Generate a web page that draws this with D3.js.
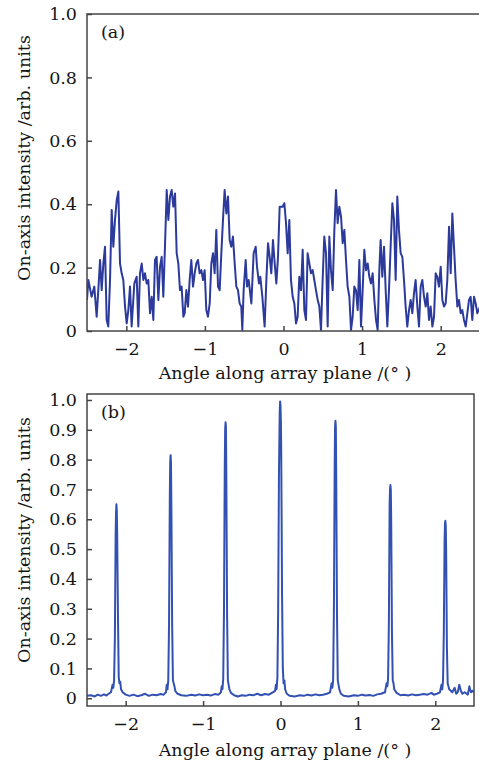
<!DOCTYPE html>
<html>
<head>
<meta charset="utf-8">
<script src="https://cdn.jsdelivr.net/npm/d3@7/dist/d3.min.js"></script>
<style>
  html, body { margin: 0; padding: 0; background: #fff; }
  svg { display: block; }
  text { font-family: "DejaVu Serif", "Liberation Serif", serif; fill: #151515; }
</style>
</head>
<body>
<svg id="chart" width="479" height="763"></svg>
<script>
// ---------------- DATA ----------------
// Panel (a): on-axis intensity, noisy pattern (angle in degrees, intensity)
const anglesA = [
  -2.500, -2.483, -2.441, -2.407, -2.377, -2.356, -2.334, -2.313, -2.292, -2.271,
  -2.250, -2.229, -2.207, -2.186, -2.165, -2.144, -2.122, -2.101, -2.080, -2.059,
  -2.038, -2.016, -1.995, -1.974, -1.953, -1.932, -1.898, -1.868, -1.847, -1.826,
  -1.804, -1.783, -1.762, -1.741, -1.720, -1.698, -1.677, -1.656, -1.635, -1.614,
  -1.592, -1.571, -1.550, -1.529, -1.508, -1.486, -1.465, -1.444, -1.423, -1.402,
  -1.380, -1.359, -1.338, -1.317, -1.296, -1.274,
  -1.257, -1.236, -1.215, -1.194, -1.173, -1.151, -1.130, -1.109, -1.088, -1.067,
  -1.045, -1.024, -1.003, -0.982, -0.961, -0.939, -0.918, -0.897, -0.876, -0.855,
  -0.833, -0.812, -0.791, -0.770, -0.749, -0.727, -0.706, -0.685, -0.664, -0.643,
  -0.621, -0.600, -0.579, -0.558, -0.537, -0.524, -0.507, -0.481, -0.464, -0.443,
  -0.409, -0.380, -0.354, -0.337, -0.312, -0.295, -0.269, -0.240, -0.218, -0.197,
  -0.176, -0.155, -0.134, -0.112, -0.091, -0.070, -0.049,
  -0.011, 0.011, 0.032, 0.053, 0.074, 0.095, 0.117, 0.138, 0.159, 0.180,
  0.201, 0.223, 0.244, 0.265, 0.286, 0.307, 0.329, 0.350, 0.371, 0.392,
  0.413, 0.435, 0.456, 0.477, 0.498, 0.519, 0.541, 0.562, 0.583, 0.604,
  0.626, 0.647, 0.668, 0.689, 0.710, 0.732, 0.753, 0.774, 0.795, 0.816,
  0.838, 0.859, 0.880, 0.901, 0.922, 0.944, 0.965, 0.986, 1.007, 1.028,
  1.050, 1.071, 1.092, 1.113, 1.134, 1.156, 1.177, 1.198, 1.219,
  1.236, 1.257, 1.279, 1.300, 1.321, 1.342, 1.363, 1.385, 1.406, 1.427,
  1.448, 1.469, 1.491, 1.512, 1.533, 1.554, 1.575, 1.597, 1.618, 1.639,
  1.660, 1.681, 1.703, 1.724, 1.745, 1.766, 1.788, 1.809, 1.830, 1.851,
  1.872, 1.894, 1.915, 1.936, 1.957, 1.978, 2.000, 2.021, 2.042, 2.063,
  2.084, 2.106, 2.127, 2.148, 2.169, 2.190, 2.212, 2.233, 2.254, 2.275,
  2.296, 2.318, 2.339, 2.360, 2.381, 2.402, 2.424, 2.445, 2.466, 2.500
];
const intensityA = [
  0.098, 0.161, 0.108, 0.140, 0.045, 0.129, 0.224, 0.129, 0.213, 0.266,
  0.035, 0.014, 0.161, 0.382, 0.266, 0.350, 0.413, 0.440, 0.213, 0.182,
  0.161, 0.077, 0.024, 0.066, 0.140, 0.014, 0.150, 0.171, 0.014, 0.182,
  0.213, 0.161, 0.182, 0.150, 0.161, 0.056, 0.108, 0.035, 0.224, 0.234,
  0.098, 0.203, 0.234, 0.108, 0.266, 0.445, 0.350, 0.424, 0.445, 0.392,
  0.434, 0.245, 0.213, 0.129, 0.140, 0.045,
  0.056, 0.129, 0.077, 0.161, 0.224, 0.140, 0.182, 0.213, 0.224, 0.182,
  0.192, 0.161, 0.192, 0.066, 0.045, 0.087, 0.213, 0.245, 0.182, 0.319,
  0.140, 0.129, 0.245, 0.350, 0.445, 0.371, 0.424, 0.287, 0.266, 0.298,
  0.213, 0.140, 0.129, 0.087, 0.077, 0.003, 0.129, 0.224, 0.140, 0.161,
  0.087, 0.245, 0.266, 0.203, 0.150, 0.171, 0.108, 0.014, 0.161, 0.277,
  0.234, 0.182, 0.287, 0.213, 0.150, 0.234, 0.392,
  0.392, 0.403, 0.340, 0.245, 0.350, 0.161, 0.108, 0.087, 0.024, 0.045,
  0.171, 0.129, 0.256, 0.066, 0.035, 0.245, 0.213, 0.182, 0.192, 0.161,
  0.129, 0.098, 0.077, 0.003, 0.161, 0.298, 0.245, 0.014, 0.298, 0.192,
  0.129, 0.319, 0.445, 0.340, 0.392, 0.361, 0.277, 0.319, 0.224, 0.140,
  0.108, 0.003, 0.045, 0.140, 0.129, 0.066, 0.224, 0.014, 0.129, 0.256,
  0.192, 0.213, 0.171, 0.150, 0.182, 0.098, 0.035, 0.003, 0.192,
  0.287, 0.171, 0.266, 0.129, 0.014, 0.129, 0.266, 0.403, 0.350, 0.161,
  0.424, 0.319, 0.245, 0.234, 0.161, 0.077, 0.014, 0.066, 0.098, 0.056,
  0.119, 0.161, 0.077, 0.014, 0.140, 0.161, 0.108, 0.077, 0.119, 0.035,
  0.077, 0.014, 0.045, 0.182, 0.171, 0.140, 0.203, 0.098, 0.077, 0.087,
  0.161, 0.329, 0.182, 0.371, 0.266, 0.161, 0.077, 0.098, 0.056, 0.066,
  0.035, 0.014, 0.056, 0.098, 0.108, 0.035, 0.108, 0.087, 0.056, 0.077
];

// Panel (b): on-axis intensity, sharp grating lobes
const anglesB = [
  -2.50, -2.45, -2.40, -2.36, -2.32, -2.28, -2.25, -2.22, -2.19, -2.17,
  -2.16, -2.15, -2.14, -2.13, -2.125, -2.12, -2.115, -2.11, -2.10, -2.09,
  -2.08, -2.07, -2.06, -2.04, -2.00, -1.95, -1.90, -1.85, -1.80, -1.75,
  -1.70, -1.65, -1.60, -1.55, -1.51, -1.48, -1.47, -1.46, -1.45, -1.44,
  -1.43, -1.425, -1.42, -1.415, -1.41, -1.40, -1.39, -1.38, -1.37, -1.36,
  -1.33, -1.28, -1.22, -1.15, -1.10, -1.05, -1.00, -0.95, -0.90, -0.85,
  -0.80, -0.77, -0.76, -0.75, -0.74, -0.73, -0.72, -0.715, -0.71, -0.705,
  -0.70, -0.69, -0.68, -0.67, -0.66, -0.64, -0.60, -0.55, -0.50, -0.45,
  -0.40, -0.35, -0.30, -0.25, -0.20, -0.15, -0.10, -0.07, -0.06, -0.05,
  -0.04, -0.03, -0.02, -0.01, -0.005, 0.00, 0.005, 0.01, 0.02, 0.03,
  0.04, 0.05, 0.06, 0.08, 0.12, 0.18, 0.25, 0.30, 0.35, 0.40,
  0.45, 0.50, 0.55, 0.60, 0.64, 0.66, 0.67, 0.68, 0.69, 0.70,
  0.705, 0.71, 0.715, 0.72, 0.73, 0.74, 0.75, 0.76, 0.78, 0.82,
  0.88, 0.95, 1.00, 1.05, 1.10, 1.15, 1.20, 1.25, 1.30, 1.35,
  1.37, 1.38, 1.39, 1.40, 1.41, 1.415, 1.42, 1.425, 1.43, 1.44,
  1.45, 1.46, 1.47, 1.50, 1.55, 1.60, 1.65, 1.70, 1.75, 1.80,
  1.85, 1.90, 1.95, 1.98, 2.02, 2.06, 2.08, 2.09, 2.10, 2.11,
  2.12, 2.125, 2.13, 2.135, 2.14, 2.15, 2.16, 2.17, 2.18, 2.20,
  2.22, 2.25, 2.27, 2.29, 2.31, 2.33, 2.35, 2.38, 2.42, 2.44,
  2.46, 2.48, 2.50
];
const intensityB = [
  0.008, 0.010, 0.006, 0.012, 0.008, 0.013, 0.009, 0.015, 0.020, 0.045,
  0.035, 0.060, 0.200, 0.550, 0.620, 0.650, 0.630, 0.550, 0.280, 0.070,
  0.050, 0.055, 0.030, 0.020, 0.012, 0.008, 0.012, 0.007, 0.010, 0.015,
  0.008, 0.012, 0.010, 0.014, 0.012, 0.020, 0.045, 0.030, 0.060, 0.250,
  0.680, 0.790, 0.815, 0.790, 0.650, 0.250, 0.060, 0.050, 0.040, 0.025,
  0.015, 0.010, 0.008, 0.012, 0.009, 0.013, 0.010, 0.012, 0.009, 0.014,
  0.012, 0.020, 0.040, 0.030, 0.065, 0.300, 0.780, 0.900, 0.925, 0.910,
  0.750, 0.280, 0.060, 0.045, 0.030, 0.018, 0.010, 0.006, 0.010, 0.008,
  0.012, 0.010, 0.015, 0.010, 0.014, 0.012, 0.020, 0.025, 0.045, 0.030,
  0.070, 0.300, 0.750, 0.960, 0.995, 0.980, 0.930, 0.800, 0.350, 0.100,
  0.050, 0.060, 0.030, 0.015, 0.008, 0.006, 0.010, 0.008, 0.012, 0.009,
  0.013, 0.010, 0.012, 0.015, 0.020, 0.050, 0.035, 0.060, 0.300, 0.780,
  0.910, 0.930, 0.910, 0.740, 0.280, 0.060, 0.045, 0.030, 0.015, 0.008,
  0.006, 0.010, 0.008, 0.012, 0.009, 0.011, 0.008, 0.013, 0.015, 0.020,
  0.050, 0.040, 0.065, 0.250, 0.650, 0.700, 0.715, 0.700, 0.600, 0.220,
  0.060, 0.050, 0.030, 0.018, 0.010, 0.012, 0.009, 0.013, 0.010, 0.012,
  0.014, 0.012, 0.018, 0.012, 0.015, 0.020, 0.045, 0.030, 0.060, 0.220,
  0.530, 0.585, 0.595, 0.580, 0.500, 0.170, 0.050, 0.040, 0.030, 0.025,
  0.020, 0.035, 0.015, 0.020, 0.045, 0.025, 0.015, 0.020, 0.012, 0.040,
  0.020, 0.025, 0.020
];

const xTicks = [-2, -1, 0, 1, 2];
const yTicksA = [0, 0.2, 0.4, 0.6, 0.8, 1.0];
const yTicksB = [0, 0.1, 0.2, 0.3, 0.4, 0.5, 0.6, 0.7, 0.8, 0.9, 1.0];
const xTitle = "Angle along array plane /(° )";
const yTitle = "On-axis intensity /arb. units";

// ---------------- DRAW ----------------
const svg = d3.select("#chart");
const fmtMinus = v => (v < 0 ? "\u2212" + Math.abs(v) : String(v));

function panel(cfg) {
  const x = d3.scaleLinear().domain([-2.5, 2.5]).range([cfg.left, cfg.right]);
  const y = d3.scaleLinear().domain(cfg.yDomain).range([cfg.bottom, cfg.top]);
  const g = svg.append("g");
  const clipId = "clip-" + cfg.name;
  svg.append("clipPath").attr("id", clipId)
    .append("rect").attr("x", cfg.left).attr("y", cfg.top)
    .attr("width", cfg.right - cfg.left).attr("height", cfg.bottom - cfg.top);

  const data = cfg.xs.map((d, i) => [d, cfg.ys[i]]);
  g.append("path")
    .datum(data)
    .attr("clip-path", `url(#${clipId})`)
    .attr("fill", "none")
    .attr("stroke", cfg.color)
    .attr("stroke-width", cfg.lw)
    .attr("stroke-linejoin", "round")
    .attr("d", d3.line().x(d => x(d[0])).y(d => y(d[1])));

  // frame
  g.append("rect")
    .attr("x", cfg.left).attr("y", cfg.top)
    .attr("width", cfg.right - cfg.left).attr("height", cfg.bottom - cfg.top)
    .attr("fill", "none").attr("stroke", "#444").attr("stroke-width", 1.5);

  // bottom axis (ticks inward)
  const xAxis = g.append("g").attr("transform", `translate(0,${cfg.bottom})`)
    .call(d3.axisBottom(x).tickValues(xTicks).tickSizeInner(-5).tickSizeOuter(0)
      .tickPadding(12).tickFormat(fmtMinus));
  xAxis.select(".domain").remove();
  xAxis.selectAll(".tick line").attr("stroke", "#444").attr("stroke-width", 1.5);
  xAxis.selectAll(".tick text").attr("font-size", 17.5).attr("fill", "#151515")
    .attr("font-family", "DejaVu Serif");

  // left axis (ticks inward)
  const yAxis = g.append("g").attr("transform", `translate(${cfg.left},0)`)
    .call(d3.axisLeft(y).tickValues(cfg.yTicks).tickSizeInner(-5).tickSizeOuter(0)
      .tickPadding(10).tickFormat(v => v === 0 ? "0" : d3.format(".1f")(v)));
  yAxis.select(".domain").remove();
  yAxis.selectAll(".tick line").attr("stroke", "#444").attr("stroke-width", 1.5);
  yAxis.selectAll(".tick text").attr("font-size", 17.5).attr("fill", "#151515")
    .attr("font-family", "DejaVu Serif");

  // titles
  g.append("text").attr("x", 285).attr("y", cfg.xTitleY)
    .attr("text-anchor", "middle").attr("font-size", 17.5).text(xTitle);
  g.append("text")
    .attr("transform", `translate(30,${cfg.yTitleC}) rotate(-90)`)
    .attr("text-anchor", "middle").attr("font-size", 17.5).text(yTitle);
  g.append("text").attr("x", cfg.left + 14).attr("y", cfg.top + 24)
    .attr("font-size", 17.5).text(cfg.label);
}

panel({
  name: "a", left: 87, right: 480, top: 14, bottom: 331,
  yDomain: [0, 1], yTicks: yTicksA, xs: anglesA, ys: intensityA,
  color: "#2b3a9b", lw: 2, xTitleY: 379, yTitleC: 158, label: "(a)"
});
panel({
  name: "b", left: 87, right: 474, top: 394, bottom: 706,
  yDomain: [-0.026, 1.02], yTicks: yTicksB, xs: anglesB, ys: intensityB,
  color: "#3350b3", lw: 2, xTitleY: 756, yTitleC: 540, label: "(b)"
});
</script>
</body>
</html>
